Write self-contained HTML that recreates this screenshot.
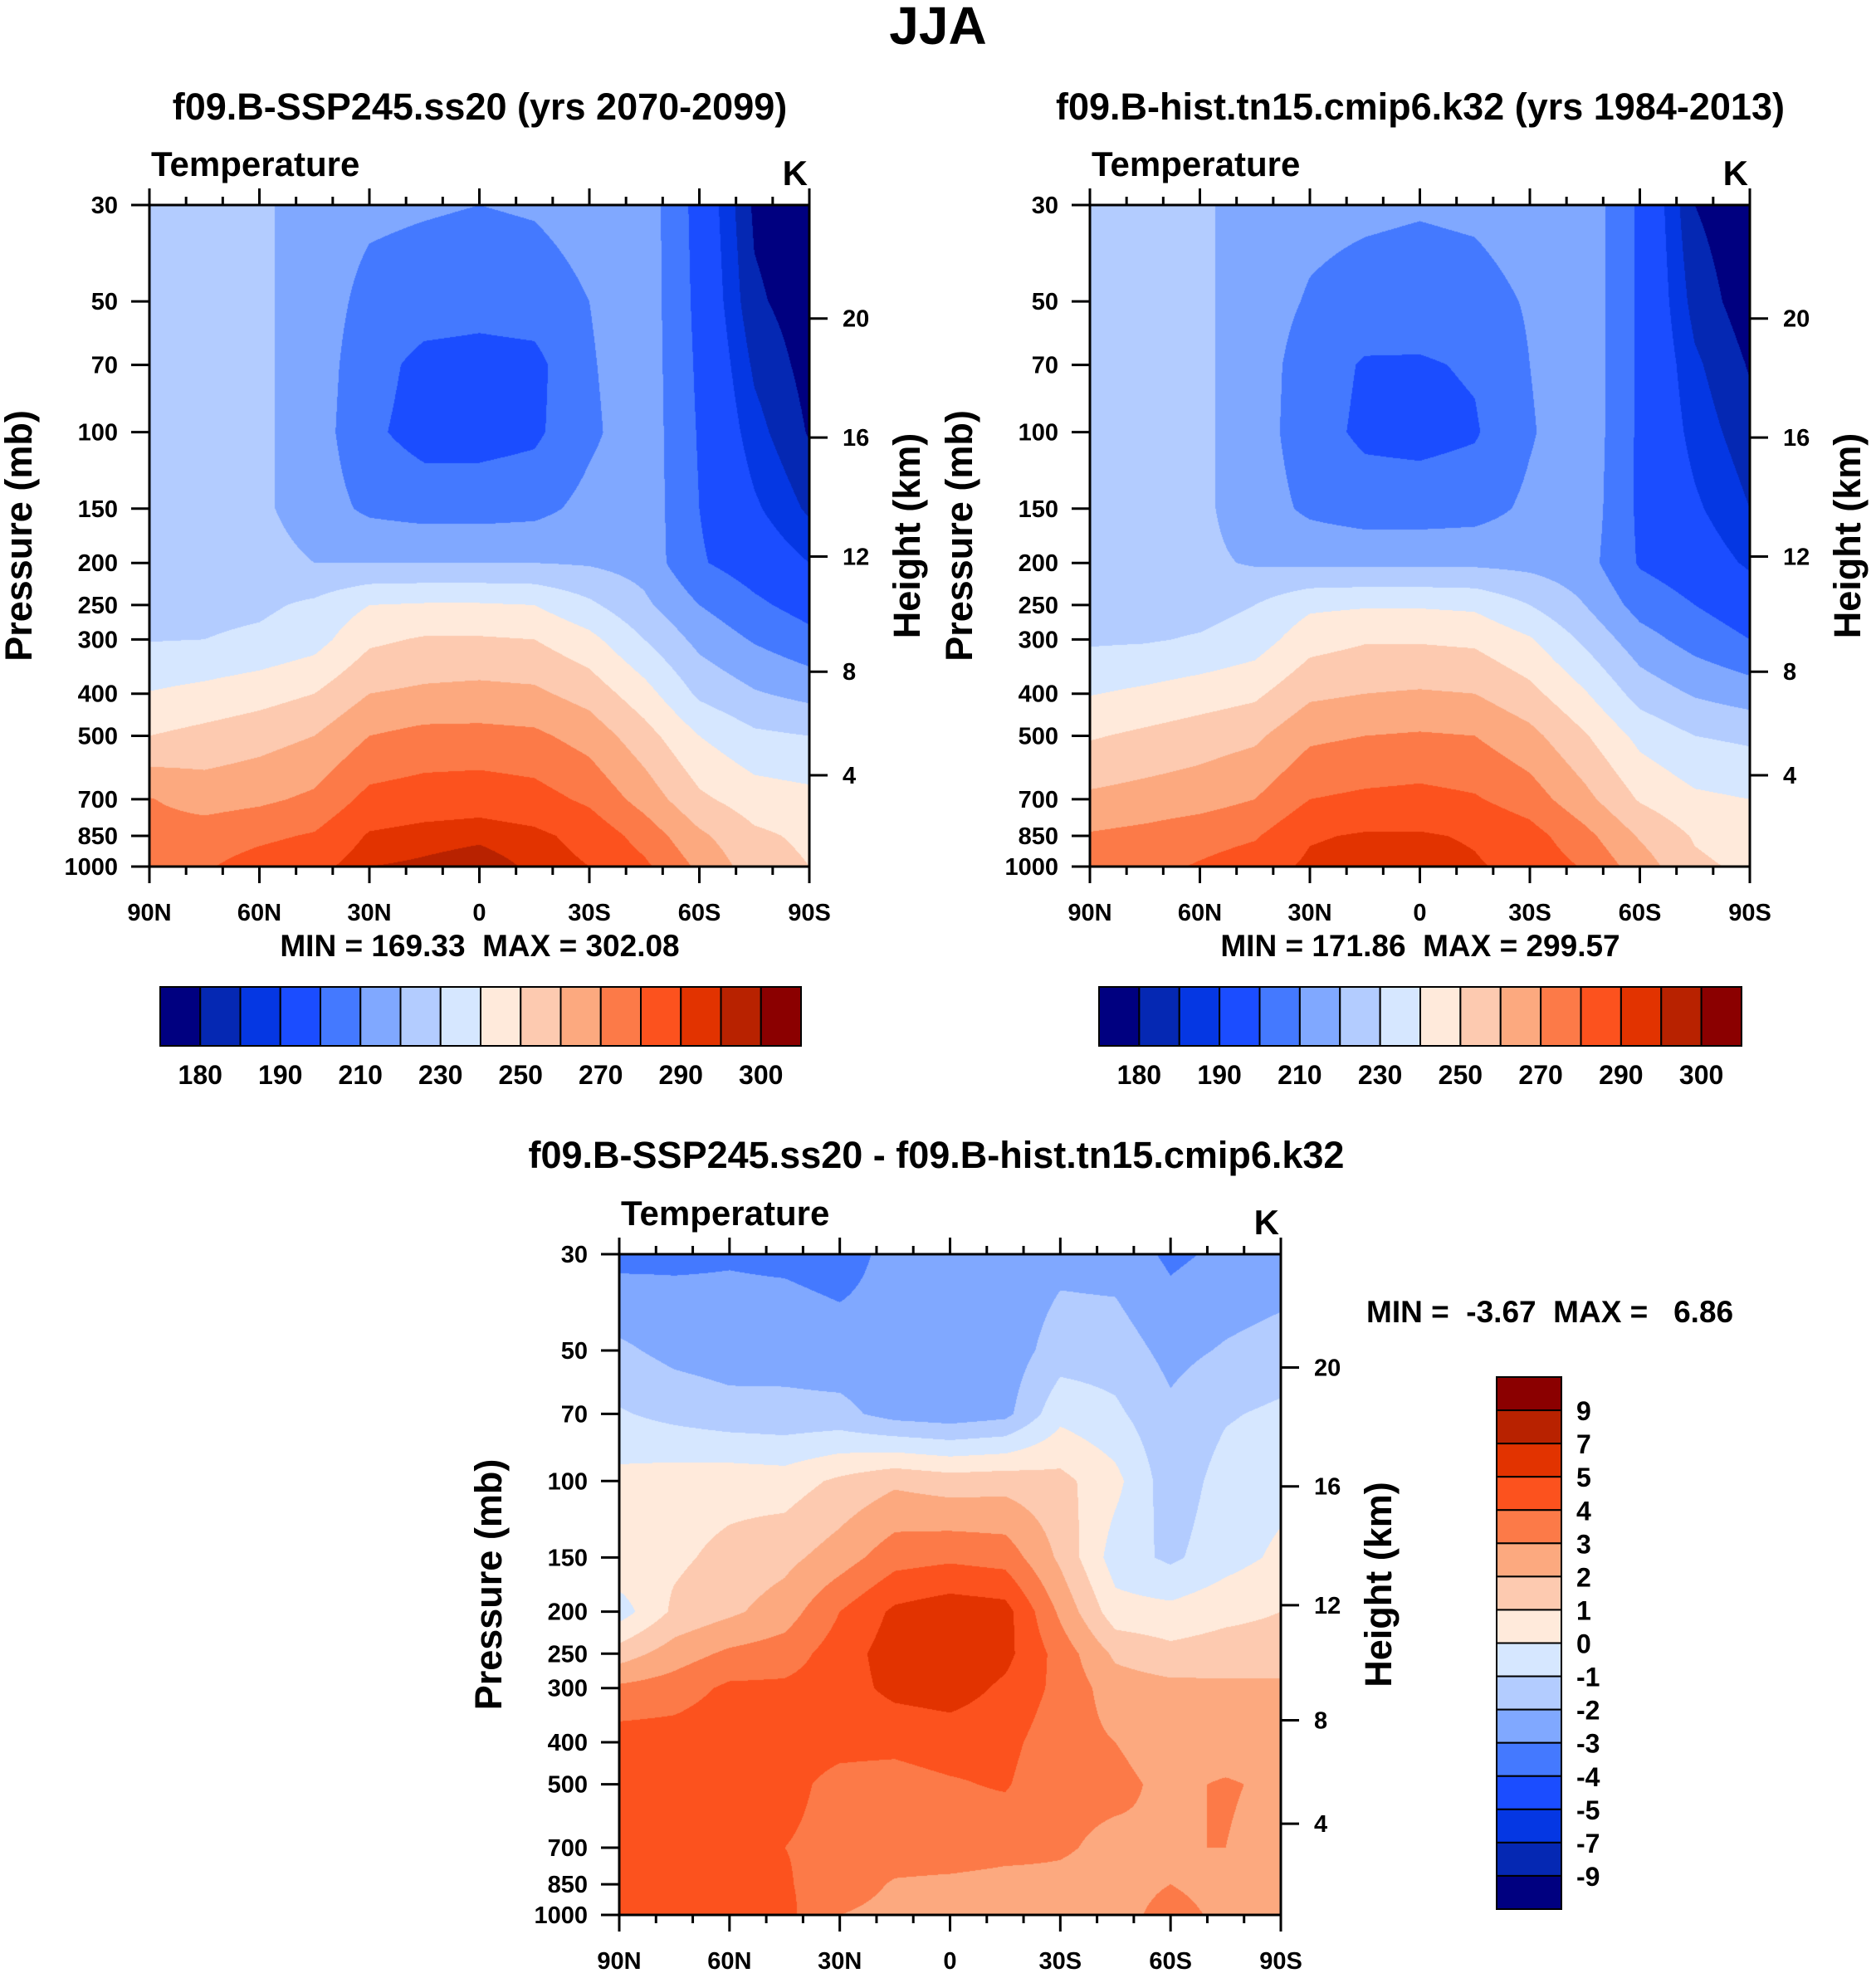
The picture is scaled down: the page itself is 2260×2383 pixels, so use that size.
<!DOCTYPE html>
<html><head><meta charset="utf-8">
<style>
html,body{margin:0;padding:0;background:#fff;}
#root{position:relative;width:2260px;height:2383px;overflow:hidden;font-family:"Liberation Sans",Arial,sans-serif;}
canvas{position:absolute;}
svg{position:absolute;left:0;top:0;}
text{font-family:"Liberation Sans",Arial,sans-serif;font-weight:bold;fill:#000;white-space:pre;}
</style></head>
<body>
<div id="root">
<canvas id="c1"></canvas>
<canvas id="c2"></canvas>
<canvas id="c3"></canvas>
<svg id="ov" width="2260" height="2383"></svg>
</div>
<script>
// ---- data ----
const lats = [90,75,60,45,30,15,0,-15,-30,-45,-60,-75,-90];
const levels = [30,50,70,100,150,200,250,300,400,500,700,850,1000];
const kmTicks = [20,16,12,8,4];
const latLabels = ["90N","60N","30N","0","30S","60S","90S"];
const latTickVals = [90,60,30,0,-30,-60,-90];
const absLevels = [180,185,190,200,210,220,230,240,250,260,270,280,290,295,300];
const absLabelIdx = [0,2,4,6,8,10,12,14];
const diffLevels = [-9,-7,-5,-4,-3,-2,-1,0,1,2,3,4,5,7,9];
const palette = ["#000080","#0528b3","#0537e3","#1b4dff","#4479ff","#80a8ff","#b3ccff","#d6e7ff","#ffeadb","#fdcab0","#fca97f","#fc7a48","#fc521e","#e23300","#b82200","#8b0000"];
// rows = latitudes (90N..90S), columns = levels (30..1000 mb)
const tSSP = [
[225,225,225,225,225,225,227,229.5,240.5,250,270.5,274,278],
[225,225,225,225,225,225,227,230,243,253,266,275,279],
[222,222,222,222,222,224,228,232,246,256,268,278,284],
[215,215,215,215,215,220,232,236,250,260,272,281,287],
[212,207,204,202,208,220,240,248,260,270,283,291,295],
[211,205,197,196,206,220,241,251,262,273,285,293,296],
[210,204,196,196,206,220,241,251,263,273,286,294,297.5],
[211,205,197,198,207,220,240,250,262,272,284,292,294],
[214,210,209,208,213,219,232,243,256,266,278,287,290],
[216,216,216,216,216,216,222,230,244,254,266,276,282],
[196,197,198,199,200,201,210,217,228,240,252,262,268],
[179,181,184,187,191,195,202,209,221,232,245,252,255],
[176,177,178,179.5,184,190,196,203,217,230,243,248,250]];
const tHist = [
[225,225,225,225,225,225,226,228.5,239.5,249,262,271,276],
[225,225,225,225,225,225,226,229,242,252,264,273,277],
[222,222,222,222,222,222,226,231,245,255,266,276,281],
[215,215,215,215,215,219,230,235,248,258,270,279,285],
[213,209,205,204,208,218,238,246,258,268,280,289,292],
[212,206,199,198,205,218,239,249,260,270,282,291,294],
[211,205,199,197,205,218,239,249,261,271,283,291,294],
[212,206,201,199,206,218,238,248,260,270,281,289,291],
[215,211,210,209,212,217,230,241,253,263,275,284,287],
[217,217,217,217,216,214,220,228,241,251,263,273,279],
[198,198,198,198,198,199,206,214,226,237,249,259,265],
[180,183,186,188,191,194,200,206,219,230,242,249,252],
[176,177,179.5,182,185,189,194,200,215,228,240,245,248]];
const tDiff = [
[-3.3,-1.8,-0.9,0.3,0.8,-0.5,1.5,3.2,4.5,4.5,4.5,4.5,4.5],
[-3.2,-2.3,-1.3,0.5,0.8,1.2,2.5,3.5,4.5,4.4,4.3,4.5,4.5],
[-3.1,-2.5,-1.6,0.6,1.3,1.8,3.2,4.2,4.7,4.5,4.4,4.4,4.5],
[-3.2,-2.4,-1.7,0.5,1.7,2.5,3.5,4.2,4.3,4.2,4.0,4.1,4.3],
[-3.4,-2.6,-1.7,1.2,2.5,4.0,4.5,4.5,4.2,3.8,3.8,3.5,3.0],
[-2.7,-2.7,-2.4,1.8,3.6,5.2,5.5,5.3,4.2,3.7,3.5,2.9,2.7],
[-2.6,-2.6,-2.6,1.5,3.8,5.6,5.8,5.5,4.4,3.9,3.5,2.8,2.6],
[-2.7,-2.6,-2.3,1.6,3.6,5.4,5.3,4.8,4.3,4.1,3.3,2.7,2.6],
[-2.3,-1.5,-0.3,1.3,1.8,2.8,3.6,3.7,3.4,3.2,3.1,2.8,2.6],
[-2.4,-1.5,-0.8,0.3,-0.5,0.4,1.8,2.5,3.0,3.2,2.8,2.7,2.7],
[-3.2,-2.3,-1.8,-1.6,-1.2,0.3,1.3,2.3,2.6,2.8,3.0,3.0,3.3],
[-2.8,-1.9,-1.1,-0.6,-0.4,0.7,1.5,2.2,2.5,3.1,3.0,2.7,2.8],
[-2.6,-1.6,-0.8,-0.3,0.2,1.0,1.5,2.2,2.5,2.8,2.6,2.5,2.5]];

// ---- helpers ----
const NS = "http://www.w3.org/2000/svg";
const ov = document.getElementById('ov');
const LP0 = Math.log(30), LP1 = Math.log(1000);
function yOfP(b,p){return b.y + b.h*(Math.log(p)-LP0)/(LP1-LP0);}
function xOfLat(b,lat){return b.x + b.w*(90-lat)/180;}
function kmToP(z){const m=z*1000; if(m<=11000) return 1013.25*Math.pow(1-2.25577e-5*m,5.25588); return 226.32*Math.exp(-(m-11000)/6341.6);}
function el(tag,attrs,parent){const e=document.createElementNS(NS,tag);for(const k in attrs)e.setAttribute(k,attrs[k]);(parent||ov).appendChild(e);return e;}
function txt(s,x,y,size,anchor,name){const t=el('text',{x:x,y:y,'font-size':size,'text-anchor':anchor||'middle'});t.textContent=s;


return t;}
function hexRgb(h){return [parseInt(h.substr(1,2),16),parseInt(h.substr(3,2),16),parseInt(h.substr(5,2),16)];}
const palRgb = palette.map(hexRgb);
function colorIdx(v,lv){let i=0;while(i<lv.length && v>=lv[i])i++;return i;}

function drawField(cid,b,data,lv){
  const c=document.getElementById(cid);
  c.width=b.w;c.height=b.h;c.style.left=b.x+'px';c.style.top=b.y+'px';
  const ctx=c.getContext('2d');const img=ctx.createImageData(b.w,b.h);
  const lnL=levels.map(Math.log);
  for(let py=0;py<b.h;py++){
    const lp=LP0+(py+0.5)/b.h*(LP1-LP0);
    let j=0;while(j<levels.length-2 && lp>lnL[j+1])j++;
    let fv=(lp-lnL[j])/(lnL[j+1]-lnL[j]);fv=Math.max(0,Math.min(1,fv));
    for(let px=0;px<b.w;px++){
      const u=(px+0.5)/b.w*(lats.length-1);
      let i=Math.min(Math.floor(u),lats.length-2);const fu=u-i;
      const v=(data[i][j]*(1-fu)+data[i+1][j]*fu)*(1-fv)+(data[i][j+1]*(1-fu)+data[i+1][j+1]*fu)*fv;
      const col=palRgb[colorIdx(v,lv)];const k=(py*b.w+px)*4;
      img.data[k]=col[0];img.data[k+1]=col[1];img.data[k+2]=col[2];img.data[k+3]=255;
    }
  }
  ctx.putImageData(img,0,0);
}

function drawAxes(b,prefix){
  el('rect',{x:b.x,y:b.y,width:b.w,height:b.h,fill:'none',stroke:'#000','stroke-width':3});
  for(let lat=90;lat>=-90;lat-=10){
    const x=xOfLat(b,lat);const major=(lat%30===0);const L=major?20:10;
    el('line',{x1:x,y1:b.y,x2:x,y2:b.y-L,stroke:'#000','stroke-width':3});
    el('line',{x1:x,y1:b.y+b.h,x2:x,y2:b.y+b.h+L,stroke:'#000','stroke-width':3});
  }
  latTickVals.forEach((lat,k)=>{txt(latLabels[k],xOfLat(b,lat),b.y+b.h+65,29,'middle',prefix+'-x-tick-label');});
  levels.forEach(p=>{const y=yOfP(b,p);
    el('line',{x1:b.x-22,y1:y,x2:b.x,y2:y,stroke:'#000','stroke-width':3});
    txt(String(p),b.x-38,y+10,29,'end',prefix+'-y-tick-label');});
  kmTicks.forEach(z=>{const y=yOfP(b,kmToP(z));
    el('line',{x1:b.x+b.w,y1:y,x2:b.x+b.w+22,y2:y,stroke:'#000','stroke-width':3});
    txt(String(z),b.x+b.w+40,y+10,29,'start',prefix+'-right-tick-label');});
  txt('Temperature',b.x+2,b.y-35,42,'start',prefix+'-variable-label');
  txt('K',b.x+b.w-2,b.y-24,42,'end',prefix+'-units-label');
  const t1=txt('Pressure (mb)',0,0,45,'middle',prefix+'-y-axis-title');
  t1.setAttribute('transform','translate('+(b.x-142)+','+(b.y+b.h/2)+') rotate(-90)');
  const t2=txt('Height (km)',0,0,45,'middle',prefix+'-right-axis-title');
  t2.setAttribute('transform','translate('+(b.x+b.w+133)+','+(b.y+b.h/2)+') rotate(-90)');
}

function hBar(x0,x1,y0,y1,lv,labIdx,prefix){
  const n=palette.length,bw=(x1-x0)/n;
  for(let k=0;k<n;k++){const r=el('rect',{x:x0+k*bw,y:y0,width:bw,height:y1-y0,fill:palette[k],stroke:'#000','stroke-width':2});
    
    }
  labIdx.forEach(i=>{txt(String(lv[i]),x0+(i+1)*bw,y1+46,32,'middle',prefix+'-colorbar-label');});
}
function vBar(x0,x1,y0,y1,lv,prefix){
  const n=palette.length,bh=(y1-y0)/n;
  for(let k=0;k<n;k++){const r=el('rect',{x:x0,y:y0+k*bh,width:x1-x0,height:bh,fill:palette[n-1-k],stroke:'#000','stroke-width':2});
    
    }
  for(let k=1;k<n;k++){txt(String(lv[n-1-k]),x1+18,y0+k*bh+12,32,'start',prefix+'-colorbar-label');}
}

// ---- panels ----
const B1={x:180,y:247,w:795,h:797};
const B2={x:1313,y:247,w:795,h:797};
const B3={x:746,y:1511,w:797,h:796};
drawField('c1',B1,tSSP,absLevels);
drawField('c2',B2,tHist,absLevels);
drawField('c3',B3,tDiff,diffLevels);
drawAxes(B1,'ssp245');
drawAxes(B2,'hist');
drawAxes(B3,'diff');

txt('JJA',1130,53,64,'middle','figure-title');
txt('f09.B-SSP245.ss20 (yrs 2070-2099)',578,144,45,'middle','ssp245-panel-title');
txt('f09.B-hist.tn15.cmip6.k32 (yrs 1984-2013)',1711,144,45,'middle','hist-panel-title');
txt('f09.B-SSP245.ss20 - f09.B-hist.tn15.cmip6.k32',1128,1407,45,'middle','diff-panel-title');
txt('MIN = 169.33  MAX = 302.08',578,1152,37,'middle','ssp245-min-max');
txt('MIN = 171.86  MAX = 299.57',1711,1152,37,'middle','hist-min-max');
txt('MIN =  -3.67  MAX =   6.86',1646,1593,37,'start','diff-min-max');
hBar(193,965,1189,1260,absLevels,absLabelIdx,'ssp245');
hBar(1324,2098,1189,1260,absLevels,absLabelIdx,'hist');
vBar(1803,1881,1659,2300,diffLevels,'diff');
</script>
</body></html>
